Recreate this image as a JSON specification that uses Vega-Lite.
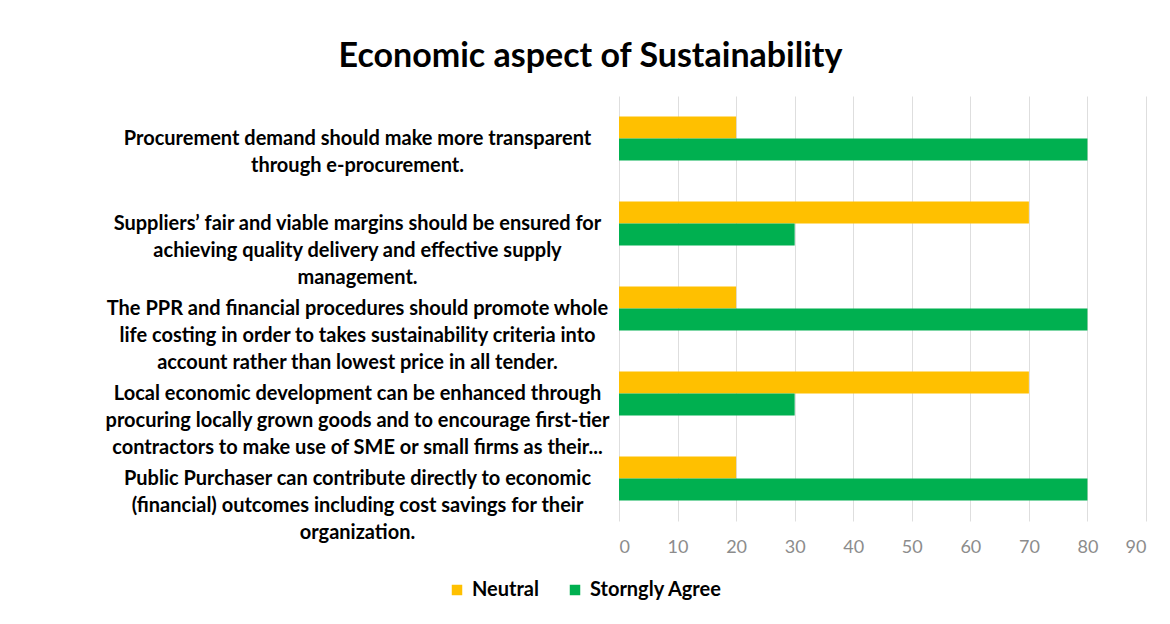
{
  "$schema": "https://vega.github.io/schema/vega-lite/v6.json",
  "autosize": {"type": "none"},
  "padding": {"left": 619, "top": 96, "right": 24, "bottom": 103},
  "width": 527,
  "height": 425,
  "background": "white",
  "title": {
    "text": "Economic aspect of Sustainability",
    "font": "Lato",
    "fontSize": 34,
    "fontWeight": "bold",
    "color": "#000000",
    "anchor": "middle",
    "dx": -292,
    "offset": 22
  },
  "data": {
    "values": [
      {"item": "Procurement demand should make more transparent|through e-procurement.", "series": "Neutral", "value": 20},
      {"item": "Procurement demand should make more transparent|through e-procurement.", "series": "Storngly Agree", "value": 80},
      {"item": "Suppliers’ fair and viable margins should be ensured for|achieving quality delivery and effective supply|management.", "series": "Neutral", "value": 70},
      {"item": "Suppliers’ fair and viable margins should be ensured for|achieving quality delivery and effective supply|management.", "series": "Storngly Agree", "value": 30},
      {"item": "The PPR and financial procedures should promote whole|life costing in order to takes sustainability criteria into|account rather than lowest price in all tender.", "series": "Neutral", "value": 20},
      {"item": "The PPR and financial procedures should promote whole|life costing in order to takes sustainability criteria into|account rather than lowest price in all tender.", "series": "Storngly Agree", "value": 80},
      {"item": "Local economic development can be enhanced through|procuring locally grown goods and to encourage first-tier|contractors to make use of SME or small firms as their...", "series": "Neutral", "value": 70},
      {"item": "Local economic development can be enhanced through|procuring locally grown goods and to encourage first-tier|contractors to make use of SME or small firms as their...", "series": "Storngly Agree", "value": 30},
      {"item": "Public Purchaser can contribute directly to economic|(financial) outcomes including cost savings for their|organization.", "series": "Neutral", "value": 20},
      {"item": "Public Purchaser can contribute directly to economic|(financial) outcomes including cost savings for their|organization.", "series": "Storngly Agree", "value": 80}
    ]
  },
  "mark": {"type": "bar"},
  "encoding": {
    "y": {
      "field": "item",
      "type": "nominal",
      "sort": null,
      "title": null,
      "scale": {"paddingInner": 0.48, "paddingOuter": 0.24},
      "axis": {
        "labelExpr": "split(datum.label, '|')",
        "labelAlign": "center",
        "labelBaseline": "middle",
        "labelPadding": 262,
        "tickSize": 0,
        "ticks": false,
        "domain": false,
        "labelFont": "Lato",
        "labelFontSize": 20,
        "labelFontWeight": "bold",
        "labelColor": "#000000",
        "labelLineHeight": 27,
        "labelLimit": 0
      }
    },
    "yOffset": {
      "field": "series",
      "type": "nominal",
      "sort": ["Neutral", "Storngly Agree"],
      "scale": {"paddingInner": 0, "paddingOuter": 0}
    },
    "x": {
      "field": "value",
      "type": "quantitative",
      "title": null,
      "scale": {"domain": [0, 90], "nice": false},
      "axis": {
        "values": [0, 10, 20, 30, 40, 50, 60, 70, 80, 90],
        "grid": true,
        "gridColor": "#dedede",
        "gridWidth": 1,
        "domain": false,
        "ticks": false,
        "labelFont": "Lato",
        "labelFontSize": 18,
        "labelColor": "#8c8c8c",
        "labelPadding": 17
      }
    },
    "color": {
      "field": "series",
      "type": "nominal",
      "sort": ["Neutral", "Storngly Agree"],
      "scale": {"domain": ["Neutral", "Storngly Agree"], "range": ["#FFC000", "#00B050"]},
      "legend": {
        "title": null,
        "orient": "none",
        "direction": "horizontal",
        "legendX": -172,
        "legendY": 484,
        "symbolType": "square",
        "symbolSize": 110,
        "symbolStrokeWidth": 0,
        "labelFont": "Lato",
        "labelFontSize": 20,
        "labelFontWeight": "bold",
        "labelColor": "#000000",
        "columnPadding": 26,
        "labelOffset": 5
      }
    }
  },
  "config": {
    "view": {"stroke": null}
  }
}
